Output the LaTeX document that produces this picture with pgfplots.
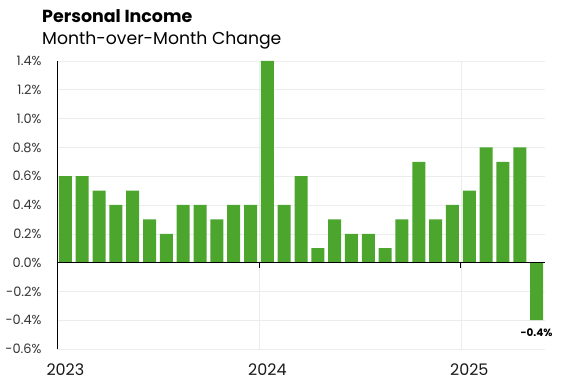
\documentclass[border=0pt]{standalone}
\usepackage{pgfplots}
\pgfplotsset{compat=1.18}
\usepackage{fontspec}
\setmainfont{Poppins}
\definecolor{bargreen}{RGB}{76,166,46}
\definecolor{gridgray}{RGB}{236,236,236}
\begin{document}
\begin{tikzpicture}
\useasboundingbox (0,0) rectangle (574bp,380bp);
\node[anchor=base west,inner sep=0pt,font=\fontsize{17.5}{20}\selectfont\bfseries] at (42bp,357bp) {Personal Income};
\node[anchor=base west,inner sep=0pt,font=\fontsize{17.3}{20}\selectfont] at (42bp,335bp) {Month-over-Month Change};
\begin{axis}[
  at={(57bp,31bp)}, anchor=south west,
  scale only axis, width=488bp, height=288bp,
  xmin=-0.5, xmax=28.5, ymin=-0.6, ymax=1.4,
  axis x line*=bottom, axis y line*=left,
  x axis line style={draw=none},
  y axis line style={black, line width=0.8pt},
  ytick={-0.6,-0.4,-0.2,0,0.2,0.4,0.6,0.8,1.0,1.2,1.4},
  yticklabels={-0.6\%,-0.4\%,-0.2\%,0.0\%,0.2\%,0.4\%,0.6\%,0.8\%,1.0\%,1.2\%,1.4\%},
  ymajorgrids, major grid style={gridgray, line width=0.6pt},
  xtick={0,12,24}, xticklabels={2023,2024,2025},
  major tick length=0pt,
  yticklabel style={font=\fontsize{13}{15}\selectfont, text=black!80, anchor=east, xshift=-12bp},
  xticklabel style={font=\fontsize{16}{18}\selectfont, text=black!90, anchor=north, yshift=-11bp},
  extra x ticks={11.5,23.5}, extra x tick labels={},
  extra x tick style={grid=major, major grid style={gridgray, line width=0.6pt}},
  ybar, bar width=13bp,
  clip=false,
]
\addplot[fill=bargreen, draw=none] coordinates {
(0,0.6) (1,0.6) (2,0.5) (3,0.4) (4,0.5) (5,0.3) (6,0.2) (7,0.4) (8,0.4) (9,0.3) (10,0.4) (11,0.4)
(12,1.4) (13,0.4) (14,0.6) (15,0.1) (16,0.3) (17,0.2) (18,0.2) (19,0.1) (20,0.3) (21,0.7) (22,0.3) (23,0.4)
(24,0.5) (25,0.8) (26,0.7) (27,0.8) (28,-0.4)
};
\draw[black, line width=0.8pt] (axis cs:-0.5,0) -- (axis cs:28.5,0);
\draw[black, line width=0.8pt] (axis cs:11.5,0) -- (axis cs:11.5,-0.035);
\draw[black, line width=0.8pt] (axis cs:23.5,0) -- (axis cs:23.5,-0.035);
\node[anchor=north, font=\fontsize{10.5}{12}\selectfont\bfseries, inner sep=0pt, yshift=-8bp] at (axis cs:28,-0.4) {-0.4\%};
\end{axis}
\end{tikzpicture}
\end{document}
